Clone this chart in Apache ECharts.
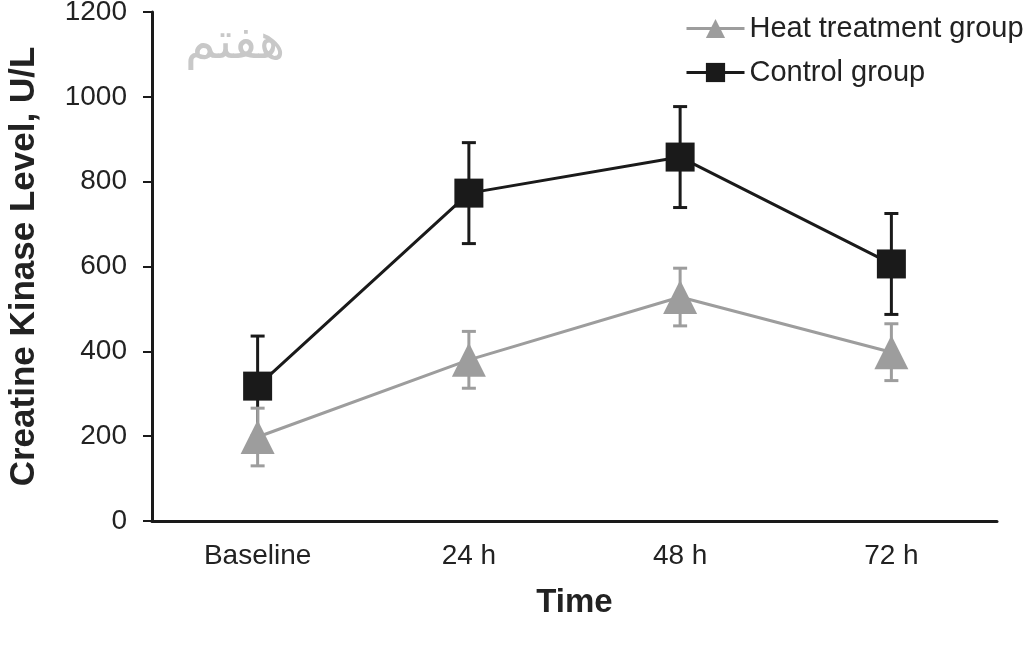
<!DOCTYPE html>
<html>
<head>
<meta charset="utf-8">
<title>Creatine Kinase Level</title>
<script src="https://cdn.jsdelivr.net/npm/echarts@6/dist/echarts.min.js"></script>
<style>
  html, body { margin: 0; padding: 0; background: #fff; }
  #chart { width: 1024px; height: 650px; }
</style>
</head>
<body>
<div id="chart"></div>
<script>
// data
var categories = ["Baseline", "24 h", "48 h", "72 h"];
var heatMean = [198, 380, 528, 398];
var heatErr = [68, 67, 68, 67];
var controlMean = [318, 773, 858, 606];
var controlErr = [118, 119, 119, 119];

var FONT = "'Liberation Sans', Arial, sans-serif";
var HEAT_COLOR = "#9d9d9d";
var CONTROL_COLOR = "#1a1a1a";

function errData(mean, err) {
  return mean.map(function(m, i) {
    return [i, m - err[i], m + err[i]];
  });
}

function errorBars(color) {
  return function(params, api) {
    var x = api.value(0);
    var lo = api.coord([x, api.value(1)]);
    var hi = api.coord([x, api.value(2)]);
    var cap = 7;
    var style = { stroke: color, lineWidth: 3 };
    return {
      type: "group",
      children: [
        { type: "line", shape: { x1: lo[0], y1: lo[1], x2: hi[0], y2: hi[1] }, style: style },
        { type: "line", shape: { x1: hi[0] - cap, y1: hi[1], x2: hi[0] + cap, y2: hi[1] }, style: style },
        { type: "line", shape: { x1: lo[0] - cap, y1: lo[1], x2: lo[0] + cap, y2: lo[1] }, style: style }
      ]
    };
  };
}

var chart = echarts.init(document.getElementById("chart"));

chart.setOption({
  animation: false,
  backgroundColor: "#fff",
  textStyle: { fontFamily: FONT },
  grid: {
    left: 152,
    right: 27,
    top: 12,
    bottom: 129,
    containLabel: false,
    outerBoundsMode: "none"
  },
  legend: {
    data: ["Heat treatment group", "Control group"],
    orient: "vertical",
    left: 685,
    top: 14,
    padding: 0,
    itemWidth: 58,
    itemHeight: 24,
    itemGap: 15,
    lineStyle: { width: 3 },
    textStyle: { fontSize: 29, color: "#222", fontFamily: FONT }
  },
  xAxis: {
    type: "category",
    data: categories,
    boundaryGap: true,
    name: "Time",
    nameLocation: "middle",
    nameGap: 65,
    nameTextStyle: { fontSize: 33, fontWeight: "bold", color: "#222", fontFamily: FONT },
    axisLine: { lineStyle: { color: CONTROL_COLOR, width: 3 } },
    axisTick: { length: 8, lineStyle: { color: CONTROL_COLOR, width: 3 } },
    axisLabel: { fontSize: 28, color: "#222", margin: 21, fontFamily: FONT },
    splitLine: { show: false }
  },
  yAxis: {
    type: "value",
    min: 0,
    max: 1200,
    interval: 200,
    name: "Creatine Kinase Level, U/L",
    nameLocation: "middle",
    nameGap: 110,
    nameTextStyle: { fontSize: 35, fontWeight: "bold", color: "#222", fontFamily: FONT },
    axisLine: { show: true, lineStyle: { color: CONTROL_COLOR, width: 3 } },
    axisTick: { show: true, length: 9, lineStyle: { color: CONTROL_COLOR, width: 2 } },
    axisLabel: {
      fontSize: 28,
      color: "#222",
      margin: 25,
      fontFamily: FONT,
      formatter: function(v) { return String(v); }
    },
    splitLine: { show: false }
  },
  graphic: [
    {
      type: "text",
      left: 185,
      top: 20,
      style: {
        text: "هفتم",
        fontSize: 50,
        fontFamily: "'DejaVu Sans', sans-serif",
        fill: "#c8c8c8"
      }
    }
  ],
  series: [
    {
      name: "controlErr",
      type: "custom",
      renderItem: errorBars(CONTROL_COLOR),
      data: errData(controlMean, controlErr),
      z: 2
    },
    {
      name: "Control group",
      type: "line",
      data: controlMean,
      symbol: "rect",
      symbolSize: 29,
      itemStyle: { color: CONTROL_COLOR },
      lineStyle: { color: CONTROL_COLOR, width: 3 },
      z: 3
    },
    {
      name: "heatErr",
      type: "custom",
      renderItem: errorBars(HEAT_COLOR),
      data: errData(heatMean, heatErr),
      z: 4
    },
    {
      name: "Heat treatment group",
      type: "line",
      data: heatMean,
      symbol: "triangle",
      symbolSize: 34,
      itemStyle: { color: HEAT_COLOR },
      lineStyle: { color: HEAT_COLOR, width: 3 },
      z: 5
    }
  ]
});
</script>
</body>
</html>
